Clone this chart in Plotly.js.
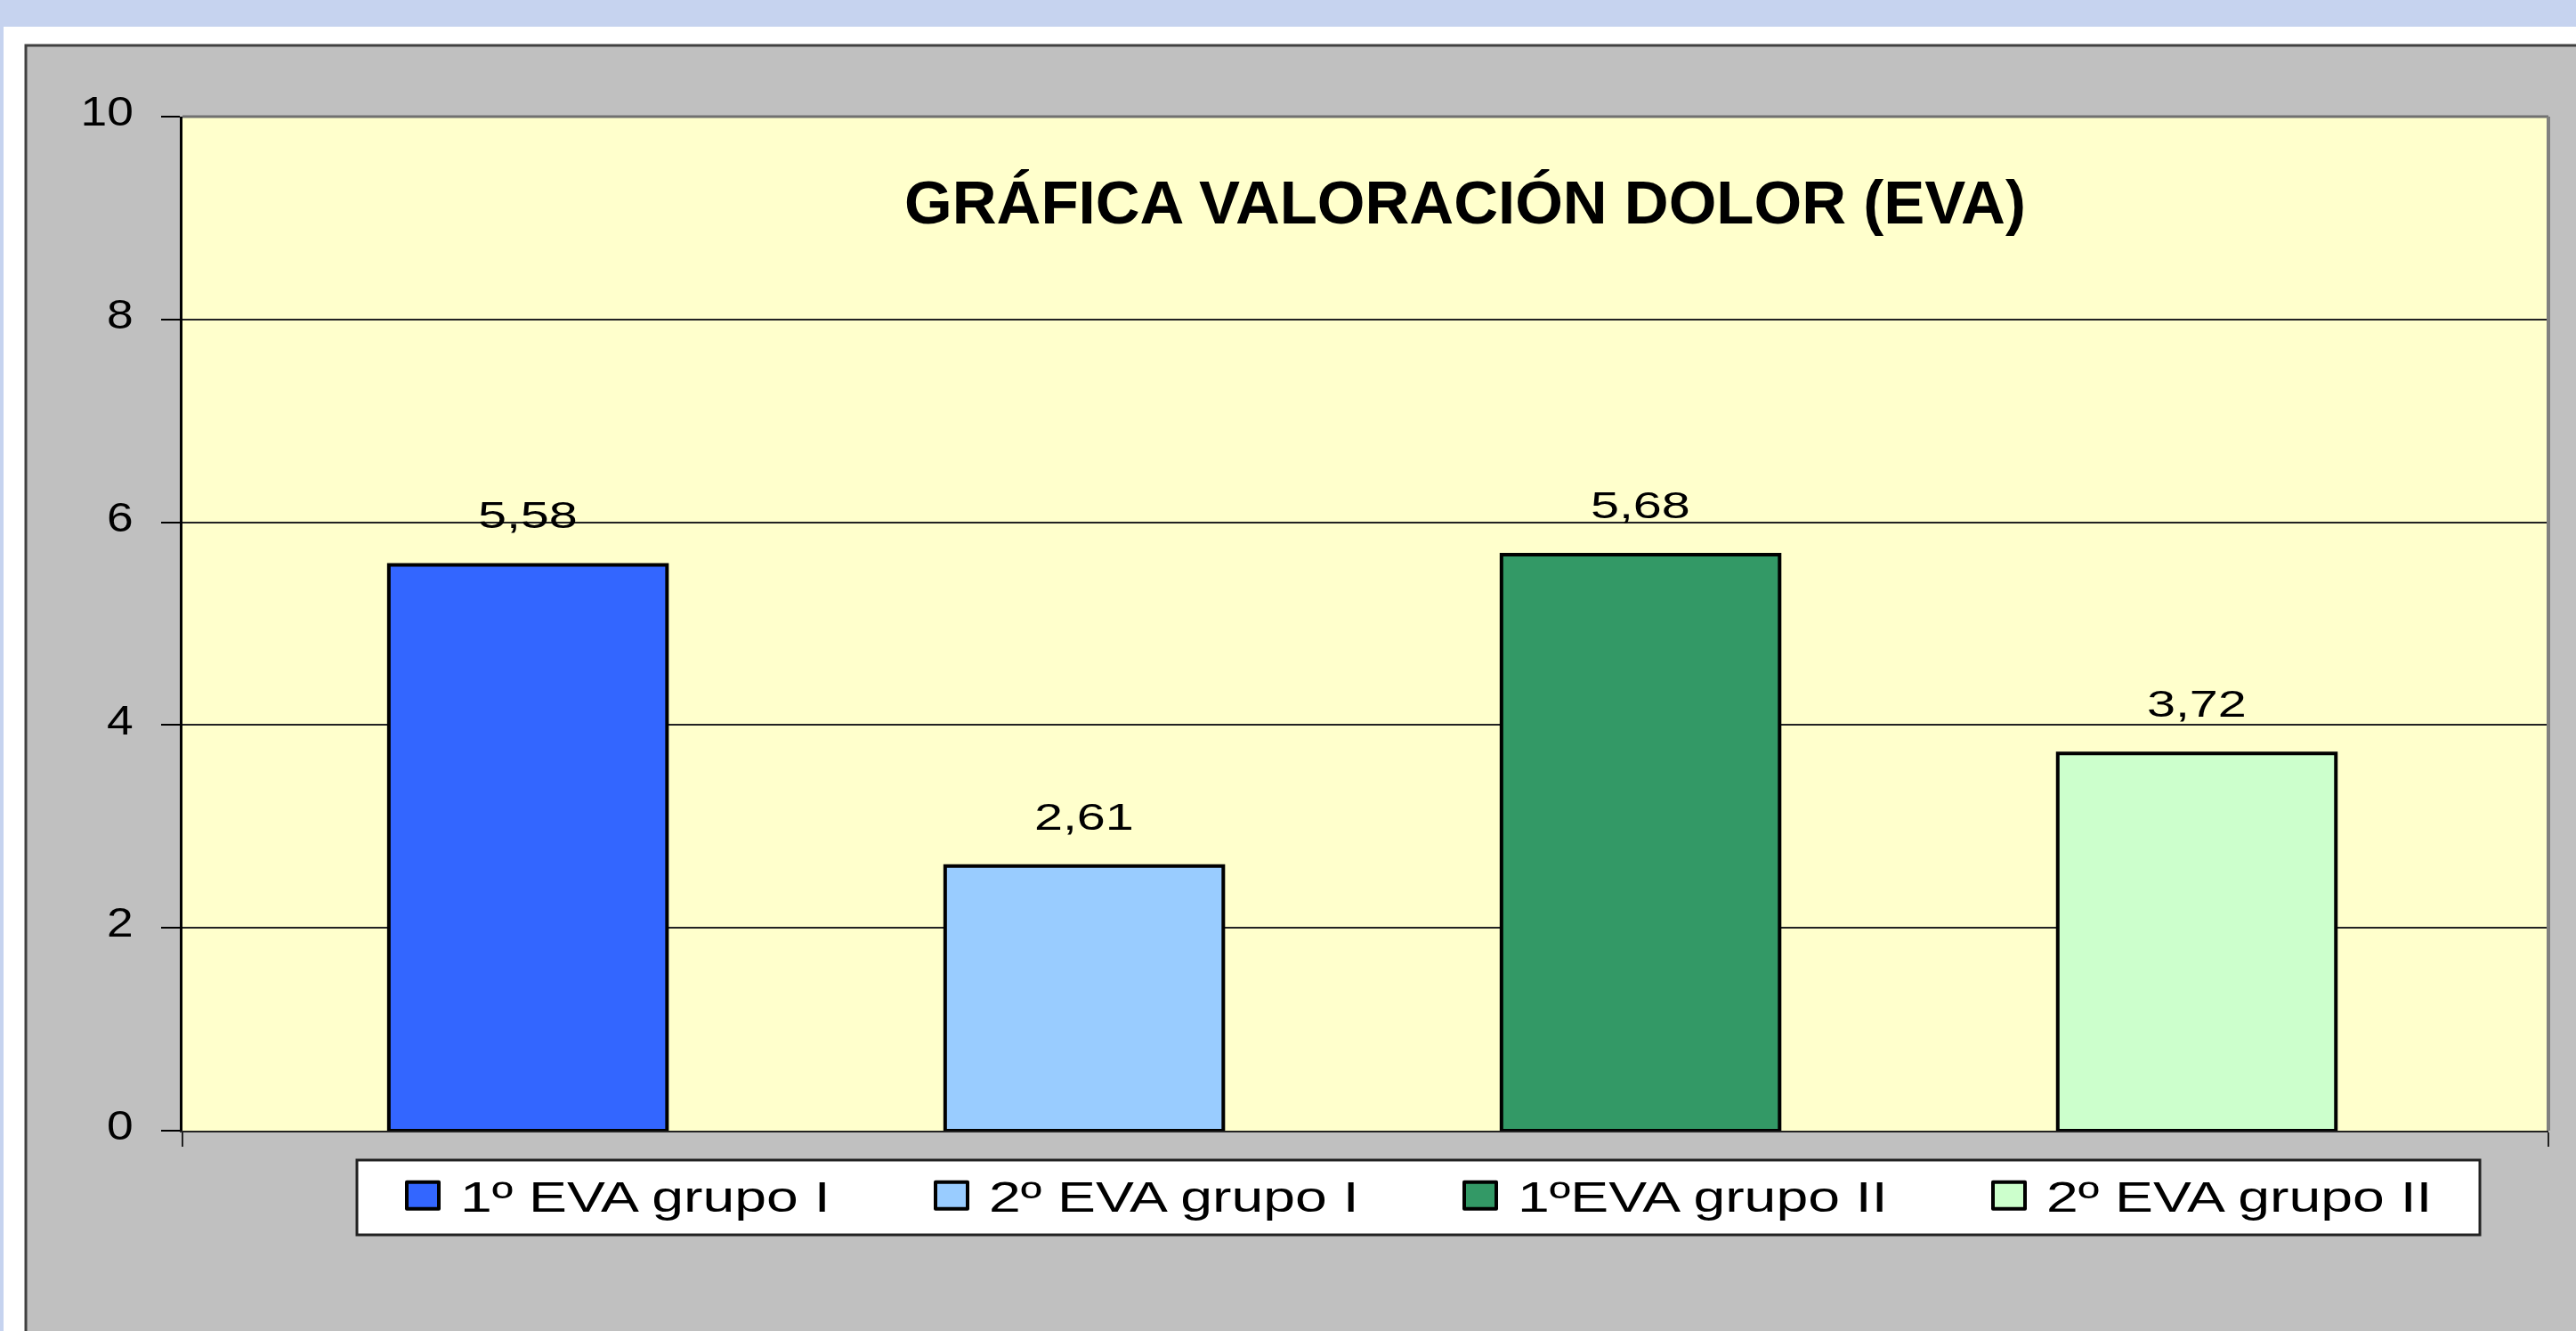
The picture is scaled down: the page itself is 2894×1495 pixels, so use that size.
<!DOCTYPE html>
<html>
<head>
<meta charset="utf-8">
<script src="https://cdn.plot.ly/plotly-3.0.1.min.js"></script>
<style>html,body{margin:0;padding:0;overflow:hidden;background:#c6d3ef;}</style>
</head>
<body>
<div id="chart" style="width:2894px;height:1495px;"></div>
<script>
// ---- data ----
const seriesNames = ["1º EVA grupo I", "2º EVA grupo I", "1ºEVA grupo II", "2º EVA grupo II"];
const seriesValues = [5.58, 2.61, 5.68, 3.72];
const seriesColors = ["#3366ff", "#99ccff", "#339966", "#ccffcc"];
const yTicks = [0, 2, 4, 6, 8, 10];
const chartTitle = "GRÁFICA VALORACIÓN DOLOR (EVA)";

const FONT = "Liberation Sans, Arial, sans-serif";

const traces = seriesNames.map((name, i) => ({
  type: "bar",
  name: name,
  x: [i],
  y: [seriesValues[i]],
  width: 0.5,
  marker: { color: seriesColors[i], line: { color: "#000000", width: 4 } },
  hoverinfo: "skip"
}));

const W = 2894, H = 1495;
const L = 205, R = 31, T = 131, B = 225;
const pw = W - L - R, ph = H - T - B;
const px = v => (v - L) / pw;          // figure px -> paper x
const py = v => (H - B - v) / ph;      // figure px -> paper y

const xr = [-0.621, 3.632];

const labels = seriesValues.map((v, i) => ({
  x: i, y: v, xref: "x", yref: "y",
  text: v.toFixed(2).replace(".", ","),
  showarrow: false, yanchor: "bottom", xanchor: "center", yshift: 30,
  font: { family: FONT, size: 42, color: "#000000" }
}));

const layout = {
  width: W, height: H,
  margin: { l: L, r: R, t: T, b: B, pad: 0 },
  paper_bgcolor: "#c6d3ef",
  plot_bgcolor: "rgba(0,0,0,0)",
  barmode: "overlay",
  showlegend: true,
  font: { family: FONT, color: "#000000" },
  title: {
    text: chartTitle,
    font: { family: FONT, size: 69, weight: "bold", color: "#000000" },
    xref: "paper", x: (1646 - L) / pw, xanchor: "center",
    yref: "container", y: 1 - 227 / H, yanchor: "middle"
  },
  xaxis: {
    range: xr, showgrid: false, zeroline: false,
    showline: true, linecolor: "#222222", linewidth: 2,
    tickmode: "array", tickvals: [xr[0] + 0.0005, xr[1] - 0.0005],
    ticks: "outside", ticklen: 16, tickwidth: 2, tickcolor: "#222222",
    showticklabels: false, fixedrange: true
  },
  yaxis: {
    range: [0, 10], tickmode: "array", tickvals: yTicks,
    ticktext: yTicks.map(String),
    showgrid: true, gridcolor: "#222222", gridwidth: 2, zeroline: false,
    showline: true, linecolor: "#000000", linewidth: 3,
    ticks: "outside", ticklen: 21, tickwidth: 2, tickcolor: "#000000",
    ticklabelstandoff: 22,
    tickfont: { family: FONT, size: 46, color: "#000000" }, fixedrange: true
  },
  legend: {
    orientation: "h", x: px(477), xanchor: "left", y: py(1305), yanchor: "top",
    bgcolor: "rgba(0,0,0,0)", borderwidth: 0,
    font: { family: FONT, size: 48, color: "#000000" },
    entrywidth: 549, entrywidthmode: "pixels", traceorder: "normal"
  },
  shapes: [
    { type: "rect", xref: "paper", yref: "paper", layer: "below",
      x0: px(4), x1: px(3000), y0: py(1600), y1: py(30),
      fillcolor: "#ffffff", line: { width: 0 } },
    { type: "rect", xref: "paper", yref: "paper", layer: "below",
      x0: px(29), x1: px(3000), y0: py(1600), y1: py(51),
      fillcolor: "#c0c0c0", line: { color: "#404040", width: 3 } },
    { type: "rect", xref: "paper", yref: "paper", layer: "below",
      x0: 0, x1: 1, y0: 0, y1: 1,
      fillcolor: "#ffffcc", line: { width: 0 } },
    // legend frame
    { type: "rect", xref: "paper", yref: "paper", layer: "above",
      x0: px(401), x1: px(2786), y0: py(1387), y1: py(1303),
      fillcolor: "#ffffff", line: { color: "#222222", width: 3 } },
    { type: "line", xref: "paper", yref: "paper", layer: "above",
      x0: 0, x1: 1, y0: 1, y1: 1, line: { color: "#707070", width: 3 } },
    { type: "line", xref: "paper", yref: "paper", layer: "above",
      x0: 1, x1: 1, y0: 0, y1: 1, line: { color: "#808080", width: 4 } }
  ],
  annotations: labels
};

function stretch(el, s, dy) {
  const x = parseFloat(el.getAttribute("x")) || 0;
  const y = parseFloat(el.getAttribute("y")) || 0;
  const t = el.getAttribute("transform") || "";
  el.setAttribute("transform",
    `${t} translate(${x},${y + (dy || 0)}) scale(${s},1) translate(${-x},${-y})`);
}

Plotly.newPlot("chart", traces, layout, { displayModeBar: false, staticPlot: true }).then(gd => {
  const leg = gd.querySelector(".legend");
  if (leg) {
    leg.removeAttribute("clip-path");
    leg.querySelectorAll("[clip-path]").forEach(e => e.removeAttribute("clip-path"));
  }
  gd.querySelectorAll(".legend .legendpoints path").forEach(p => {
    p.setAttribute("d", "M-4,15H-40V-15H-4Z");
    p.style.strokeWidth = "4px";
    p.style.stroke = "#000000";
    p.style.strokeLinejoin = "round";
  });
  gd.querySelectorAll(".legend .legendtext").forEach(t => stretch(t, 1.34, 0));
  gd.querySelectorAll(".annotation-text").forEach(t => stretch(t, 1.37, 0));
  gd.querySelectorAll(".ytick text").forEach(t => stretch(t, 1.16, -6));
});
</script>
</body>
</html>
